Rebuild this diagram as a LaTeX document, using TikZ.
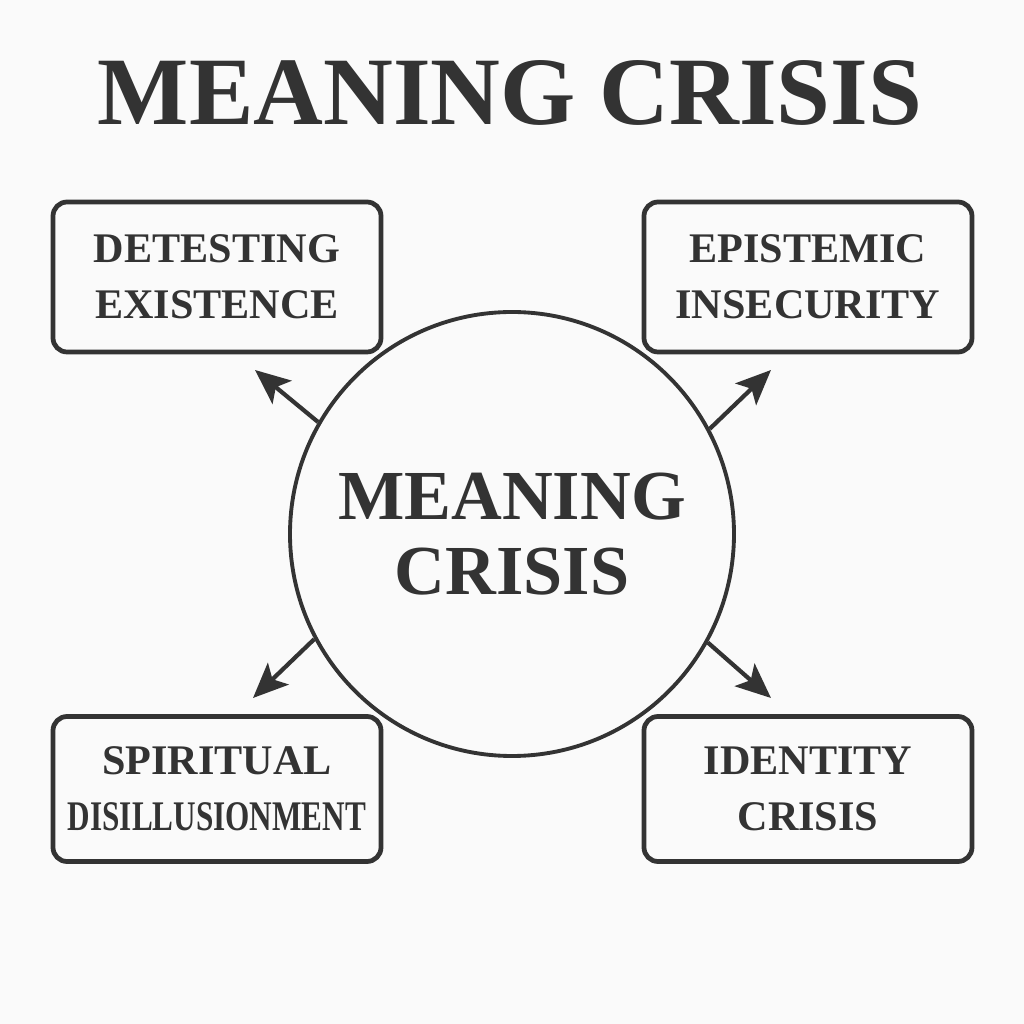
\documentclass[tikz,border=0pt]{standalone}
\usepackage{fontspec}
\setmainfont{Liberation Serif}
\usetikzlibrary{arrows.meta}
\definecolor{inkc}{HTML}{333333}
\definecolor{paperc}{HTML}{FAFAFA}
\tikzset{
  ar/.style={-{Stealth[length=7mm,width=6mm,inset=1.6mm]},line width=2.4pt,inkc},
  box/.style={draw=inkc,line width=2.7pt,rounded corners=8pt,minimum width=6.56cm,minimum height=3cm,align=center,text=inkc,font=\fontsize{24}{32}\selectfont\bfseries}
}

\begin{document}
\begin{tikzpicture}[x=0.2mm,y=0.2mm]
\fill[paperc] (0,0) rectangle (1024,1024);
\useasboundingbox (0,0) rectangle (1024,1024);
\node[anchor=base,text=inkc,font=\fontsize{55}{60}\selectfont\bfseries] (title) at (510,899) {MEANING CRISIS};
\node[circle,draw=inkc,line width=2.2pt,minimum size=8.88cm,align=center,text=inkc,font=\fontsize{40}{43}\selectfont\bfseries] (core) at (512,490) {MEANING\\CRISIS};
\node[box] (detest) at (217,747) {DETESTING\\EXISTENCE};
\node[box] (episte) at (808,747) {EPISTEMIC\\INSECURITY};
\node[box,minimum height=2.9cm] (spirit) at (217,235) {SPIRITUAL\\\scalebox{0.74}[1]{DISILLUSIONMENT}};
\node[box,minimum height=2.9cm] (ident) at (808,235) {IDENTITY\\CRISIS};
\coordinate (tipA) at (255,654);
\coordinate (tipB) at (771,654);
\coordinate (tipC) at (253,326);
\coordinate (tipD) at (771,326);
\draw[ar] (core.150.7) -- (tipA);
\draw[ar] (core.28.4) -- (tipB);
\draw[ar] (core.208.6) -- (tipC);
\draw[ar] (core.331.6) -- (tipD);
\end{tikzpicture}
\end{document}
